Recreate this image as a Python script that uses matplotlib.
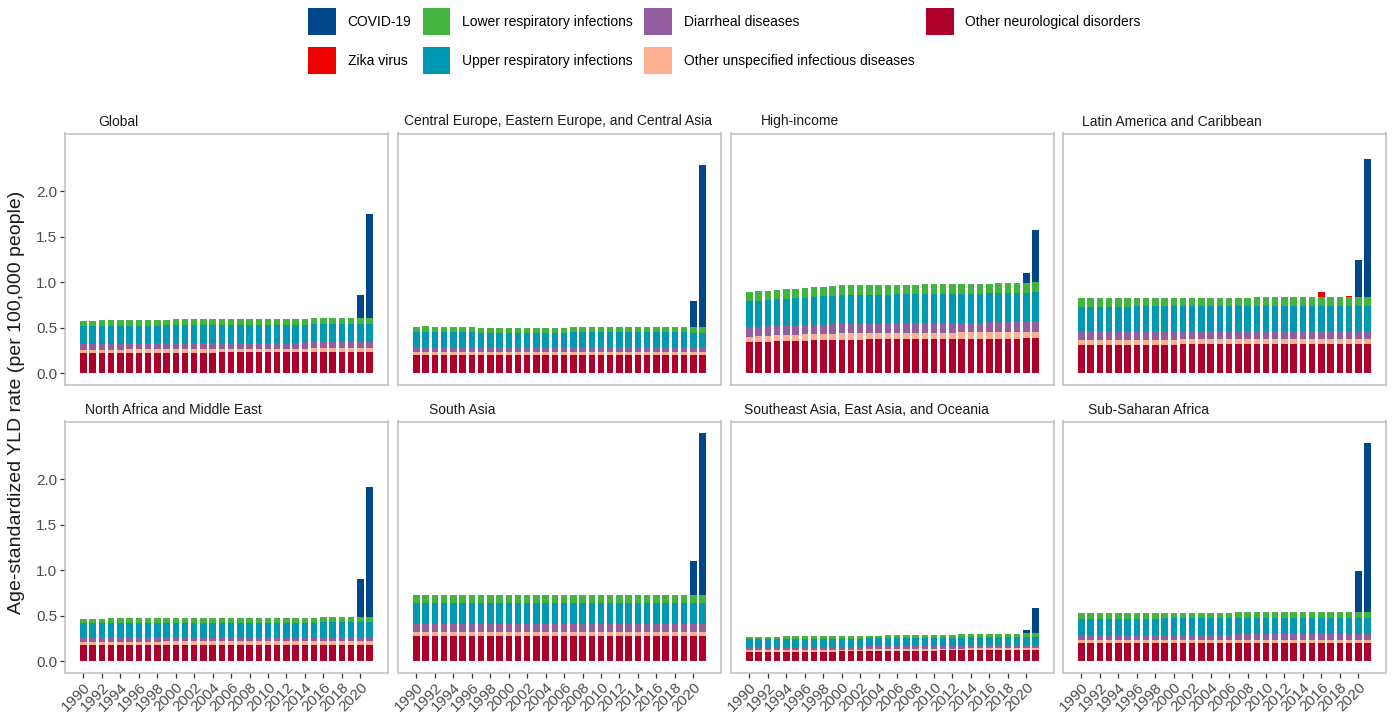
import matplotlib
matplotlib.use("Agg")
import matplotlib.pyplot as plt
from matplotlib.patches import Patch
import numpy as np

plt.rcParams["font.family"] = ["Liberation Sans", "DejaVu Sans"]

years = list(range(1990, 2022))
regions = ["Global", "Central Europe, Eastern Europe, and Central Asia", "High-income",
           "Latin America and Caribbean", "North Africa and Middle East", "South Asia",
           "Southeast Asia, East Asia, and Oceania", "Sub-Saharan Africa"]

# legend order (ggsci lancet colours)
causes = ["COVID-19", "Zika virus", "Lower respiratory infections", "Upper respiratory infections",
          "Diarrheal diseases", "Other unspecified infectious diseases", "Other neurological disorders"]
colors = {"COVID-19": "#00468B", "Zika virus": "#ED0000", "Lower respiratory infections": "#42B540",
          "Upper respiratory infections": "#0099B4", "Diarrheal diseases": "#925E9F",
          "Other unspecified infectious diseases": "#FDAF91", "Other neurological disorders": "#AD002A"}

# age-standardized YLD rate per 100,000, 1990-2021
other_neuro = {
    "Global": [0.221, 0.221, 0.222, 0.222, 0.222, 0.223, 0.223, 0.224, 0.224, 0.225, 0.225, 0.225, 0.226, 0.226, 0.226, 0.227, 0.227, 0.227, 0.228, 0.228, 0.228, 0.229, 0.229, 0.229, 0.230, 0.230, 0.230, 0.231, 0.231, 0.232, 0.232, 0.232],
    "Central Europe, Eastern Europe, and Central Asia": [0.199, 0.200, 0.199, 0.198, 0.198, 0.197, 0.197, 0.197, 0.197, 0.197, 0.196, 0.196, 0.196, 0.196, 0.196, 0.196, 0.196, 0.196, 0.196, 0.196, 0.196, 0.196, 0.196, 0.196, 0.196, 0.196, 0.196, 0.195, 0.195, 0.195, 0.195, 0.195],
    "High-income": [0.339, 0.343, 0.346, 0.349, 0.352, 0.355, 0.358, 0.360, 0.363, 0.366, 0.368, 0.369, 0.369, 0.370, 0.370, 0.370, 0.371, 0.371, 0.371, 0.372, 0.372, 0.373, 0.373, 0.374, 0.375, 0.375, 0.376, 0.377, 0.378, 0.379, 0.383, 0.387],
    "Latin America and Caribbean": [0.313, 0.313, 0.313, 0.313, 0.314, 0.314, 0.314, 0.314, 0.314, 0.314, 0.314, 0.315, 0.315, 0.315, 0.315, 0.315, 0.315, 0.315, 0.315, 0.315, 0.315, 0.315, 0.315, 0.315, 0.315, 0.315, 0.315, 0.315, 0.315, 0.315, 0.315, 0.315],
    "North Africa and Middle East": [0.173, 0.173, 0.173, 0.174, 0.174, 0.174, 0.174, 0.174, 0.174, 0.175, 0.175, 0.175, 0.175, 0.175, 0.175, 0.175, 0.175, 0.175, 0.175, 0.175, 0.175, 0.175, 0.175, 0.175, 0.175, 0.175, 0.176, 0.176, 0.176, 0.176, 0.176, 0.176],
    "South Asia": [0.273, 0.273, 0.273, 0.273, 0.273, 0.273, 0.273, 0.273, 0.273, 0.273, 0.273, 0.273, 0.273, 0.273, 0.273, 0.273, 0.274, 0.274, 0.274, 0.274, 0.274, 0.274, 0.274, 0.274, 0.274, 0.274, 0.274, 0.274, 0.274, 0.274, 0.274, 0.274],
    "Southeast Asia, East Asia, and Oceania": [0.099, 0.099, 0.100, 0.100, 0.101, 0.101, 0.102, 0.103, 0.104, 0.105, 0.106, 0.107, 0.108, 0.109, 0.110, 0.111, 0.112, 0.113, 0.114, 0.115, 0.116, 0.117, 0.118, 0.119, 0.120, 0.121, 0.122, 0.123, 0.124, 0.125, 0.125, 0.125],
    "Sub-Saharan Africa": [0.195, 0.195, 0.195, 0.195, 0.195, 0.195, 0.195, 0.195, 0.195, 0.196, 0.196, 0.196, 0.196, 0.196, 0.196, 0.196, 0.196, 0.197, 0.197, 0.197, 0.197, 0.197, 0.197, 0.197, 0.197, 0.197, 0.197, 0.197, 0.197, 0.197, 0.197, 0.197],
}
other_infectious = {
    "Global": [0.037, 0.037, 0.037, 0.037, 0.037, 0.037, 0.037, 0.037, 0.037, 0.038, 0.038, 0.038, 0.038, 0.038, 0.038, 0.038, 0.038, 0.038, 0.038, 0.039, 0.039, 0.039, 0.039, 0.040, 0.040, 0.041, 0.041, 0.041, 0.042, 0.042, 0.042, 0.042],
    "Central Europe, Eastern Europe, and Central Asia": [0.029, 0.029, 0.029, 0.030, 0.030, 0.030, 0.030, 0.030, 0.030, 0.030, 0.031, 0.031, 0.031, 0.031, 0.031, 0.031, 0.031, 0.032, 0.032, 0.032, 0.032, 0.032, 0.032, 0.032, 0.033, 0.033, 0.033, 0.033, 0.033, 0.033, 0.033, 0.033],
    "High-income": [0.062, 0.063, 0.064, 0.065, 0.066, 0.066, 0.067, 0.068, 0.068, 0.069, 0.070, 0.070, 0.070, 0.071, 0.071, 0.071, 0.071, 0.072, 0.072, 0.072, 0.072, 0.072, 0.073, 0.073, 0.073, 0.073, 0.074, 0.074, 0.074, 0.074, 0.071, 0.070],
    "Latin America and Caribbean": [0.055, 0.055, 0.055, 0.055, 0.055, 0.055, 0.055, 0.055, 0.055, 0.055, 0.055, 0.055, 0.055, 0.055, 0.055, 0.056, 0.056, 0.056, 0.056, 0.056, 0.056, 0.056, 0.056, 0.056, 0.056, 0.056, 0.056, 0.056, 0.056, 0.056, 0.056, 0.056],
    "North Africa and Middle East": [0.041, 0.041, 0.041, 0.041, 0.041, 0.041, 0.041, 0.041, 0.041, 0.041, 0.041, 0.041, 0.041, 0.041, 0.041, 0.041, 0.041, 0.041, 0.041, 0.041, 0.041, 0.041, 0.041, 0.041, 0.041, 0.041, 0.041, 0.041, 0.041, 0.041, 0.041, 0.041],
    "South Asia": [0.047, 0.047, 0.047, 0.047, 0.047, 0.047, 0.047, 0.047, 0.047, 0.047, 0.047, 0.047, 0.047, 0.047, 0.047, 0.047, 0.047, 0.047, 0.047, 0.047, 0.047, 0.047, 0.047, 0.047, 0.047, 0.047, 0.047, 0.047, 0.047, 0.047, 0.047, 0.047],
    "Southeast Asia, East Asia, and Oceania": [0.019, 0.019, 0.019, 0.019, 0.019, 0.019, 0.019, 0.019, 0.019, 0.019, 0.019, 0.019, 0.019, 0.019, 0.019, 0.019, 0.019, 0.019, 0.019, 0.019, 0.019, 0.019, 0.019, 0.019, 0.019, 0.019, 0.019, 0.019, 0.019, 0.019, 0.019, 0.019],
    "Sub-Saharan Africa": [0.037, 0.037, 0.037, 0.037, 0.037, 0.037, 0.037, 0.037, 0.037, 0.037, 0.037, 0.037, 0.037, 0.037, 0.037, 0.037, 0.037, 0.038, 0.038, 0.038, 0.038, 0.038, 0.038, 0.038, 0.038, 0.038, 0.038, 0.038, 0.038, 0.038, 0.038, 0.038],
}
diarrheal = {
    "Global": [0.066, 0.066, 0.066, 0.066, 0.066, 0.066, 0.066, 0.066, 0.066, 0.066, 0.066, 0.066, 0.066, 0.066, 0.066, 0.066, 0.066, 0.066, 0.066, 0.066, 0.066, 0.066, 0.066, 0.067, 0.067, 0.067, 0.067, 0.068, 0.068, 0.068, 0.068, 0.068],
    "Central Europe, Eastern Europe, and Central Asia": [0.059, 0.059, 0.059, 0.059, 0.059, 0.059, 0.059, 0.059, 0.059, 0.059, 0.059, 0.059, 0.059, 0.059, 0.059, 0.059, 0.059, 0.059, 0.059, 0.059, 0.059, 0.059, 0.059, 0.059, 0.059, 0.059, 0.059, 0.059, 0.059, 0.059, 0.059, 0.059],
    "High-income": [0.104, 0.104, 0.104, 0.103, 0.103, 0.103, 0.103, 0.103, 0.103, 0.103, 0.103, 0.103, 0.104, 0.104, 0.104, 0.104, 0.105, 0.105, 0.105, 0.105, 0.105, 0.106, 0.106, 0.106, 0.106, 0.106, 0.107, 0.107, 0.107, 0.107, 0.110, 0.114],
    "Latin America and Caribbean": [0.092, 0.092, 0.092, 0.092, 0.092, 0.092, 0.093, 0.093, 0.093, 0.093, 0.093, 0.093, 0.093, 0.093, 0.093, 0.093, 0.093, 0.093, 0.093, 0.094, 0.094, 0.094, 0.094, 0.094, 0.094, 0.094, 0.094, 0.094, 0.094, 0.094, 0.094, 0.094],
    "North Africa and Middle East": [0.051, 0.051, 0.051, 0.051, 0.051, 0.051, 0.051, 0.051, 0.051, 0.051, 0.052, 0.052, 0.052, 0.052, 0.052, 0.052, 0.052, 0.052, 0.052, 0.052, 0.052, 0.052, 0.052, 0.052, 0.052, 0.052, 0.052, 0.052, 0.052, 0.052, 0.052, 0.052],
    "South Asia": [0.085, 0.085, 0.085, 0.085, 0.085, 0.085, 0.085, 0.085, 0.085, 0.085, 0.085, 0.085, 0.085, 0.085, 0.085, 0.085, 0.085, 0.085, 0.085, 0.085, 0.085, 0.085, 0.085, 0.085, 0.085, 0.085, 0.085, 0.085, 0.085, 0.085, 0.085, 0.085],
    "Southeast Asia, East Asia, and Oceania": [0.033, 0.033, 0.033, 0.033, 0.033, 0.033, 0.033, 0.033, 0.033, 0.033, 0.033, 0.033, 0.033, 0.033, 0.033, 0.033, 0.033, 0.033, 0.033, 0.033, 0.033, 0.033, 0.033, 0.033, 0.033, 0.033, 0.033, 0.033, 0.033, 0.033, 0.033, 0.033],
    "Sub-Saharan Africa": [0.059, 0.059, 0.059, 0.059, 0.059, 0.059, 0.059, 0.059, 0.059, 0.059, 0.059, 0.059, 0.059, 0.059, 0.059, 0.059, 0.059, 0.058, 0.058, 0.058, 0.058, 0.058, 0.058, 0.058, 0.058, 0.058, 0.058, 0.058, 0.058, 0.058, 0.058, 0.058],
}
upper_resp = {
    "Global": [0.192, 0.192, 0.193, 0.193, 0.194, 0.194, 0.195, 0.195, 0.196, 0.196, 0.197, 0.197, 0.197, 0.197, 0.197, 0.197, 0.197, 0.197, 0.197, 0.197, 0.197, 0.197, 0.197, 0.197, 0.197, 0.197, 0.197, 0.197, 0.197, 0.197, 0.197, 0.198],
    "Central Europe, Eastern Europe, and Central Asia": [0.166, 0.167, 0.165, 0.164, 0.163, 0.162, 0.161, 0.160, 0.160, 0.160, 0.160, 0.160, 0.159, 0.159, 0.159, 0.159, 0.159, 0.160, 0.160, 0.160, 0.160, 0.160, 0.160, 0.160, 0.160, 0.160, 0.160, 0.160, 0.160, 0.160, 0.159, 0.159],
    "High-income": [0.283, 0.287, 0.290, 0.293, 0.297, 0.300, 0.303, 0.305, 0.310, 0.314, 0.317, 0.317, 0.317, 0.317, 0.317, 0.317, 0.318, 0.318, 0.318, 0.318, 0.318, 0.318, 0.318, 0.318, 0.318, 0.318, 0.319, 0.319, 0.320, 0.320, 0.319, 0.317],
    "Latin America and Caribbean": [0.269, 0.269, 0.269, 0.269, 0.269, 0.269, 0.271, 0.272, 0.273, 0.273, 0.273, 0.273, 0.273, 0.273, 0.273, 0.273, 0.273, 0.273, 0.273, 0.276, 0.277, 0.277, 0.277, 0.277, 0.277, 0.277, 0.278, 0.278, 0.278, 0.278, 0.278, 0.278],
    "North Africa and Middle East": [0.151, 0.151, 0.151, 0.151, 0.153, 0.153, 0.154, 0.154, 0.155, 0.155, 0.155, 0.155, 0.155, 0.155, 0.155, 0.155, 0.155, 0.155, 0.155, 0.155, 0.155, 0.156, 0.156, 0.156, 0.156, 0.156, 0.156, 0.156, 0.156, 0.157, 0.157, 0.157],
    "South Asia": [0.232, 0.232, 0.232, 0.232, 0.232, 0.232, 0.232, 0.232, 0.232, 0.232, 0.232, 0.232, 0.232, 0.232, 0.232, 0.232, 0.232, 0.232, 0.232, 0.232, 0.232, 0.232, 0.232, 0.232, 0.232, 0.232, 0.232, 0.232, 0.232, 0.232, 0.232, 0.232],
    "Southeast Asia, East Asia, and Oceania": [0.088, 0.088, 0.088, 0.088, 0.088, 0.088, 0.088, 0.088, 0.088, 0.088, 0.088, 0.088, 0.088, 0.088, 0.088, 0.088, 0.088, 0.088, 0.088, 0.088, 0.088, 0.088, 0.088, 0.088, 0.088, 0.088, 0.088, 0.088, 0.088, 0.088, 0.090, 0.092],
    "Sub-Saharan Africa": [0.177, 0.177, 0.177, 0.177, 0.177, 0.177, 0.177, 0.177, 0.177, 0.177, 0.177, 0.177, 0.177, 0.177, 0.177, 0.177, 0.177, 0.181, 0.181, 0.181, 0.181, 0.181, 0.181, 0.181, 0.181, 0.181, 0.181, 0.181, 0.181, 0.181, 0.181, 0.181],
}
lower_resp = {
    "Global": [0.062, 0.062, 0.062, 0.062, 0.063, 0.063, 0.063, 0.063, 0.064, 0.064, 0.064, 0.064, 0.064, 0.064, 0.064, 0.064, 0.064, 0.064, 0.064, 0.064, 0.064, 0.064, 0.065, 0.066, 0.066, 0.066, 0.067, 0.067, 0.067, 0.068, 0.069, 0.069],
    "Central Europe, Eastern Europe, and Central Asia": [0.059, 0.060, 0.059, 0.058, 0.057, 0.056, 0.056, 0.055, 0.055, 0.055, 0.055, 0.055, 0.055, 0.055, 0.055, 0.055, 0.055, 0.055, 0.055, 0.055, 0.055, 0.055, 0.055, 0.055, 0.055, 0.055, 0.055, 0.055, 0.056, 0.056, 0.056, 0.056],
    "High-income": [0.100, 0.101, 0.102, 0.103, 0.104, 0.105, 0.105, 0.106, 0.106, 0.107, 0.107, 0.107, 0.107, 0.107, 0.107, 0.107, 0.108, 0.108, 0.108, 0.108, 0.108, 0.108, 0.108, 0.108, 0.108, 0.108, 0.109, 0.110, 0.110, 0.111, 0.112, 0.112],
    "Latin America and Caribbean": [0.092, 0.092, 0.092, 0.092, 0.092, 0.092, 0.094, 0.094, 0.094, 0.094, 0.094, 0.094, 0.094, 0.094, 0.094, 0.094, 0.094, 0.094, 0.094, 0.096, 0.096, 0.096, 0.096, 0.096, 0.096, 0.096, 0.097, 0.097, 0.097, 0.097, 0.097, 0.097],
    "North Africa and Middle East": [0.052, 0.052, 0.052, 0.052, 0.053, 0.053, 0.054, 0.054, 0.054, 0.054, 0.054, 0.054, 0.054, 0.054, 0.054, 0.054, 0.054, 0.054, 0.054, 0.054, 0.054, 0.054, 0.054, 0.054, 0.054, 0.054, 0.055, 0.055, 0.056, 0.057, 0.057, 0.057],
    "South Asia": [0.092, 0.092, 0.092, 0.092, 0.092, 0.092, 0.092, 0.092, 0.092, 0.092, 0.092, 0.092, 0.092, 0.092, 0.092, 0.092, 0.092, 0.092, 0.092, 0.092, 0.092, 0.092, 0.092, 0.092, 0.092, 0.092, 0.092, 0.092, 0.092, 0.092, 0.092, 0.092],
    "Southeast Asia, East Asia, and Oceania": [0.030, 0.030, 0.030, 0.030, 0.030, 0.030, 0.030, 0.030, 0.030, 0.030, 0.031, 0.031, 0.031, 0.031, 0.031, 0.031, 0.032, 0.032, 0.032, 0.032, 0.032, 0.032, 0.033, 0.034, 0.035, 0.035, 0.036, 0.036, 0.037, 0.037, 0.037, 0.037],
    "Sub-Saharan Africa": [0.059, 0.059, 0.059, 0.059, 0.059, 0.059, 0.059, 0.059, 0.059, 0.059, 0.059, 0.059, 0.059, 0.059, 0.059, 0.059, 0.059, 0.062, 0.062, 0.062, 0.062, 0.062, 0.062, 0.062, 0.062, 0.062, 0.062, 0.062, 0.062, 0.062, 0.062, 0.062],
}
# non-zero years only
zika = {
    "Global": {2016: 0.003, 2018: 0.002},
    "Latin America and Caribbean": {2016: 0.055, 2019: 0.006},
}
covid = {
    "Global": {2020: 0.25, 2021: 1.14},
    "Central Europe, Eastern Europe, and Central Asia": {2020: 0.29, 2021: 1.79},
    "High-income": {2020: 0.11, 2021: 0.57},
    "Latin America and Caribbean": {2020: 0.40, 2021: 1.52},
    "North Africa and Middle East": {2020: 0.42, 2021: 1.43},
    "South Asia": {2020: 0.37, 2021: 1.78},
    "Southeast Asia, East Asia, and Oceania": {2020: 0.04, 2021: 0.28},
    "Sub-Saharan Africa": {2020: 0.45, 2021: 1.86},
}


def yearly(sparse):
    vals = np.zeros(len(years))
    for yr, v in sparse.items():
        vals[years.index(yr)] = v
    return vals


def series_for(region):
    # bottom to top of each stacked bar
    return [
        ("Other neurological disorders", np.array(other_neuro[region])),
        ("Other unspecified infectious diseases", np.array(other_infectious[region])),
        ("Diarrheal diseases", np.array(diarrheal[region])),
        ("Upper respiratory infections", np.array(upper_resp[region])),
        ("Lower respiratory infections", np.array(lower_resp[region])),
        ("Zika virus", yearly(zika.get(region, {}))),
        ("COVID-19", yearly(covid[region])),
    ]


ymax = max(sum(v for _, v in series_for(r)).max() for r in regions)

W, H = 1394, 718
fig = plt.figure(figsize=(W / 100, H / 100), dpi=100)
renderer = fig.canvas.get_renderer()

col_left = [65, 398, 731, 1063]
row_top = [133.5, 421.5]
box_w, box_h = 323, 251
x = np.array(years)

for i, region in enumerate(regions):
    r, c = divmod(i, 4)
    ax = fig.add_axes([col_left[c] / W, 1 - (row_top[r] + box_h) / H, box_w / W, box_h / H])
    bottom = np.zeros(len(years))
    for name, vals in series_for(region):
        m = vals > 0
        ax.bar(x[m], vals[m], bottom=bottom[m], width=0.7, color=colors[name], linewidth=0)
        bottom += vals

    ax.set_xlim(years[0] - 2.0, years[-1] + 2.0)
    ax.set_ylim(-0.05 * ymax, 1.05 * ymax)
    for s in ax.spines.values():
        s.set_color("#BEBEBE")
        s.set_linewidth(1.1)
    ax.set_yticks([0, 0.5, 1.0, 1.5, 2.0])
    ax.set_yticklabels(["0.0", "0.5", "1.0", "1.5", "2.0"])
    ax.set_xticks(years[::2])
    ax.set_xticklabels([str(y) for y in years[::2]], rotation=45, ha="right", rotation_mode="anchor")
    ax.tick_params(length=3.5, width=0.9, color="#333333", labelcolor="#4D4D4D",
                   labelsize=11, pad=2)
    if c > 0:
        ax.tick_params(left=False, labelleft=False)
    if r == 0:
        ax.tick_params(bottom=False, labelbottom=False)

    # panel title, ggplot-style strip text
    t = fig.text(0, 1 - (row_top[r] - 5) / H, region, fontsize=10, color="#1A1A1A",
                 ha="left", va="bottom")
    w = t.get_window_extent(renderer).width
    t.set_x((col_left[c] + 6 + 0.1 * (box_w - 10 - w)) / W)

fig.text(17 / W, 1 - 402 / H, "Age-standardized YLD rate (per 100,000 people)",
         rotation=90, fontsize=14, ha="center", va="center", color="#1A1A1A")

handles = [Patch(facecolor=colors[k], edgecolor="none", label=k) for k in causes]
fig.legend(handles=handles, ncol=4, loc="upper left", bbox_to_anchor=(308 / W, 1 - 8 / H),
           frameon=False, fontsize=10, handlelength=2.0, handleheight=2.61,
           handletextpad=0.86, columnspacing=0.8, labelspacing=0.86,
           borderpad=0, borderaxespad=0)

fig.savefig("out.png", dpi=100)
